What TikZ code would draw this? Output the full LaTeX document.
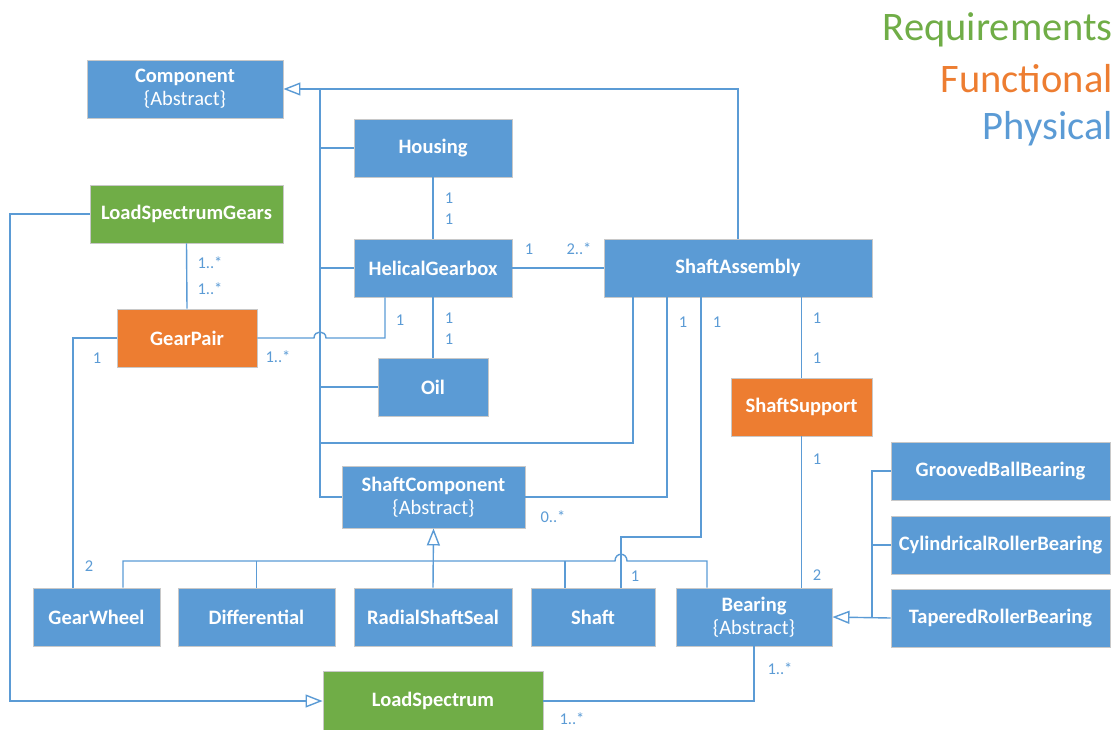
\documentclass[tikz,border=0pt]{standalone}
\usepackage{fontspec}
\setmainfont{Carlito}
\usetikzlibrary{arrows.meta,calc}
\definecolor{physblue}{HTML}{5B9BD5}
\definecolor{funcorange}{HTML}{ED7D31}
\definecolor{reqgreen}{HTML}{70AD47}
\definecolor{boxedge}{HTML}{C8C8C8}
\begin{document}
\begin{tikzpicture}[x=1pt,y=-1pt,
  cls/.style={draw=boxedge,line width=0.9pt,text=white,inner sep=0pt,align=center,
    font=\fontsize{20.5}{24}\selectfont\bfseries},
  phys/.style={cls,fill=physblue},
  func/.style={cls,fill=funcorange},
  req/.style={cls,fill=reqgreen},
  conn/.style={draw=physblue,line width=1.4pt},
  gen/.style={conn,-{Triangle[open,fill=white,length=17pt,width=13pt,line width=1.4pt]}},
  mult/.style={text=physblue,font=\fontsize{16.5}{18}\selectfont,inner sep=0pt},
  legend/.style={font=\fontsize{40.5}{44}\selectfont,anchor=east,inner sep=0pt}]
\clip (0,0) rectangle (1115,729);

% legend
\node[legend,text=reqgreen]   (lgreq)  at (1113,30)  {Requirements};
\node[legend,text=funcorange] (lgfun)  at (1113,79)  {Functional};
\node[legend,text=physblue]   (lgphy)  at (1113,129) {Physical};

% classes
\node[phys,minimum width=196pt,minimum height=58pt] (comp) at (185,89)
  {Component\\[-1pt]\mdseries{\{Abstract\}}};
\node[phys,minimum width=158pt,minimum height=58pt] (housing) at (433,148) {Housing};
\node[req, minimum width=193pt,minimum height=58pt] (lsg) at (186.5,214) {LoadSpectrumGears};
\node[phys,minimum width=158pt,minimum height=58pt] (hg) at (433,268) {HelicalGearbox};
\node[phys,minimum width=268pt,minimum height=58pt] (sa) at (738,268) {ShaftAssembly};
\node[func,minimum width=140pt,minimum height=58pt] (gp) at (187,338) {GearPair};
\node[phys,minimum width=110pt,minimum height=58pt] (oil) at (433,387) {Oil};
\node[func,minimum width=141pt,minimum height=58pt] (ss) at (801.5,407) {ShaftSupport};
\node[phys,minimum width=183pt,minimum height=62pt] (sc) at (433.5,497)
  {ShaftComponent\\[-1pt]\mdseries{\{Abstract\}}};
\node[phys,minimum width=219pt,minimum height=58pt] (gbb) at (1000.5,471) {GroovedBallBearing};
\node[phys,minimum width=219pt,minimum height=58pt] (crb) at (1000.5,545) {CylindricalRollerBearing};
\node[phys,minimum width=219pt,minimum height=58pt] (trb) at (1000.5,618) {TaperedRollerBearing};
\node[phys,minimum width=127pt,minimum height=58pt] (gw) at (96.5,617) {GearWheel};
\node[phys,minimum width=157pt,minimum height=58pt] (diff) at (256.5,617) {Differential};
\node[phys,minimum width=158pt,minimum height=58pt] (rss) at (433,617) {RadialShaftSeal};
\node[phys,minimum width=124pt,minimum height=58pt] (shaft) at (593,617) {Shaft};
\node[phys,minimum width=156pt,minimum height=58pt,align=center] (bearing) at (754,617)
  {Bearing\\[-1pt]\mdseries{\{Abstract\}}};
\node[req, minimum width=220pt,minimum height=60pt] (ls) at (433,701) {LoadSpectrum};

% routing points
\coordinate (trunk) at (320,89);
\coordinate (trunkSA) at (320,443);
\coordinate (busL) at (123,561);
\coordinate (busR) at (707,561);
\coordinate (brgTrunk) at (872,471);
\coordinate (lsgLeft) at (10,214);

% generalization to Component
\draw[gen] (sa.north) |- (comp.east);
\draw[conn] (trunk) |- (sc.west);
\draw[conn] (housing.west) -- (housing.west -| trunk);
\draw[conn] (hg.west) -- (hg.west -| trunk);
\draw[conn] (oil.west) -- (oil.west -| trunk);
\draw[conn] ([xshift=-105pt]sa.south) |- (trunkSA);

% associations around the gearbox
\draw[conn] (housing.south) -- (hg.north);
\draw[conn] (hg.south) -- (oil.north);
\draw[conn] (hg.east) -- (sa.west);
\draw[conn] ([xshift=-48pt]hg.south) |- ($(gp.east -| trunk)+(6,0)$)
  .. controls ($(gp.east -| trunk)+(6,-8)$) and ($(gp.east -| trunk)+(-6,-8)$) ..
  ($(gp.east -| trunk)+(-6,0)$) -- (gp.east);
\draw[conn] (lsg.south) -- (gp.north);
\draw[conn] (gp.west) -| ([xshift=-23.5pt]gw.north);
\draw[gen] (lsg.west) -- (lsgLeft) |- (ls.west);

% generalization to ShaftComponent
\draw[gen] (rss.north) -- (sc.south);
\draw[conn] ([xshift=26.5pt]gw.north) -- (busL) -- (615,561)
  .. controls (615,552) and (627,552) .. (627,561) -- (busR) -- ([xshift=-47pt]bearing.north);
\draw[conn] (diff.north) -- (diff.north |- busL);
\draw[conn] ([xshift=-28pt]shaft.north) -- (565,561);

% shaft assembly associations
\draw[conn] ([xshift=-71pt]sa.south) |- (sc.east);
\draw[conn] ([xshift=-37pt]sa.south) |- (621,537) -- ([xshift=28pt]shaft.north);
\draw[conn] (ss.north |- sa.south) -- (ss.north);
\draw[conn] (ss.south) -- (ss.south |- bearing.north);

% bearing generalization
\draw[gen] (trb.west) -- (bearing.east);
\draw[conn] (gbb.west) -- (brgTrunk) -- (brgTrunk |- trb.west);
\draw[conn] (crb.west) -- (crb.west -| brgTrunk);
\draw[conn] (bearing.south) |- (ls.east);

% multiplicities
\node[mult] (m1)  at (449,198) {1};
\node[mult] (m2)  at (449,219) {1};
\node[mult] (m3)  at (449,318) {1};
\node[mult] (m4)  at (449,339) {1};
\node[mult] (m5)  at (529,249) {1};
\node[mult] (m6)  at (579,249) {2..*};
\node[mult] (m7)  at (210,263) {1..*};
\node[mult] (m8)  at (210,289) {1..*};
\node[mult] (m9)  at (400,320) {1};
\node[mult] (m10) at (278,357) {1..*};
\node[mult] (m11) at (97,358)  {1};
\node[mult] (m12) at (89,566)  {2};
\node[mult] (m13) at (683,322) {1};
\node[mult] (m14) at (717,322) {1};
\node[mult] (m15) at (817,318) {1};
\node[mult] (m16) at (817,358) {1};
\node[mult] (m17) at (817,459) {1};
\node[mult] (m18) at (817,575) {2};
\node[mult] (m19) at (553,517) {0..*};
\node[mult] (m20) at (635,576) {1};
\node[mult] (m21) at (780,669) {1..*};
\node[mult] (m22) at (572,719) {1..*};
\end{tikzpicture}
\end{document}
